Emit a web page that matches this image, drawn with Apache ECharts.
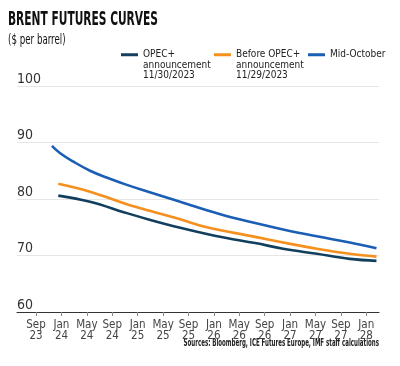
<!DOCTYPE html>
<html><head><meta charset="utf-8">
<script src="https://cdn.jsdelivr.net/npm/echarts@6/dist/echarts.min.js"></script>
<style>html,body{margin:0;padding:0;background:#fff}#c{width:400px;height:366px}</style>
</head><body><div id="c"></div>
<script>
// x = months since Sep 2023
const tickMonths = [0,4,8,12,16,20,24,28,32,36,40,44,48,52];
const tickLabels = ['Sep\n23','Jan\n24','May\n24','Sep\n24','Jan\n25','May\n25','Sep\n25','Jan\n26','May\n26','Sep\n26','Jan\n27','May\n27','Sep\n27','Jan\n28'];
const yTicks = [60,70,80,90,100];

const opecMonths  = [3.5, 8.5, 14.3, 18.0, 22.7, 26.9, 30.0, 34.5, 38.9, 44.2, 49.4, 53.6];
const opecValues  = [80.6, 79.5, 77.5, 76.3, 74.9, 73.8, 73.1, 72.2, 71.2, 70.3, 69.4, 69.05];
const beforeMonths = [3.5, 8.5, 13.7, 17.9, 22.7, 26.9, 34.5, 38.9, 44.2, 49.4, 53.6];
const beforeValues = [82.7, 81.3, 79.3, 77.9, 76.4, 75.0, 73.3, 72.3, 71.2, 70.3, 69.8];
const midOctMonths = [2.5, 3.8, 5.9, 8.5, 11.1, 14.3, 17.9, 22.7, 29.0, 35.0, 38.9, 44.2, 49.4, 53.6];
const midOctValues = [89.4, 88.1, 86.6, 85.0, 83.8, 82.5, 81.2, 79.5, 77.3, 75.6, 74.6, 73.4, 72.3, 71.3];

const seriesNames = ['OPEC+\nannouncement\n11/30/2023', 'Before OPEC+\nannouncement\n11/29/2023', 'Mid-October'];
const colors = ['#123f5e', '#f5901e', '#1b5eb5'];

const F = "'DejaVu Sans Condensed','DejaVu Sans',sans-serif";
const zip = (a,b)=>a.map((m,i)=>[m,b[i]]);

function legendFor(i, left, top, multi){
  return {
    left:left, top:top, padding:0, itemWidth:17, itemHeight:3, icon:'rect', selectedMode:false,
    textStyle:{fontFamily:F, fontSize:10, color:'#222', lineHeight:10.5},
    formatter: multi ? (n => '\n\n' + n) : (n => n),
    data:[seriesNames[i]]
  };
}

const chart = echarts.init(document.getElementById('c'), null, {renderer:'canvas'});
chart.setOption({
  animation:false,
  color: colors,
  graphic:[
    {type:'text', x:8, y:20, scaleX:0.607, style:{text:'BRENT FUTURES CURVES', fontFamily:F, fontWeight:'bold', fontSize:19.5, fill:'#111', align:'left', verticalAlign:'middle'}},
    {type:'text', x:8, y:40.5, scaleX:0.69, style:{text:'($ per barrel)', fontFamily:F, fontSize:14, fill:'#111', align:'left', verticalAlign:'middle'}},
    {type:'text', x:379, y:343, scaleX:0.61, style:{text:'Sources: Bloomberg, ICE Futures Europe, IMF staff calculations', fontFamily:F, fontWeight:'bold', fontSize:10, fill:'#222', align:'right', verticalAlign:'middle'}}
  ],
  legend:[
    legendFor(0, 121, 28.5, true),
    legendFor(1, 214, 28.5, true),
    legendFor(2, 308, 49.5, false)
  ],
  grid:{left:17, right:21, top:86, bottom:54},
  xAxis:{
    type:'value', min:-3, max:54,
    splitLine:{show:false},
    axisLine:{show:true, lineStyle:{color:'#333', width:1}},
    axisTick:{show:true, length:4, lineStyle:{color:'#888'}, customValues: tickMonths},
    axisLabel:{customValues: tickMonths, fontFamily:F, fontSize:11.5, color:'#444', lineHeight:11, margin:8,
      formatter:(v)=>tickLabels[tickMonths.indexOf(v)]}
  },
  yAxis:{
    type:'value', min:yTicks[0], max:yTicks[yTicks.length-1], interval:10,
    axisLine:{show:false}, axisTick:{show:false},
    splitLine:{lineStyle:{color:'#e6e6e6', width:1}},
    axisLabel:{inside:true, fontFamily:F, fontSize:14, color:'#333', verticalAlign:'bottom', align:'left', margin:0, padding:0}
  },
  series:[
    {name:seriesNames[0], type:'line', data:zip(opecMonths, opecValues), smooth:0.4, showSymbol:false, lineStyle:{width:2.6, color:colors[0]}},
    {name:seriesNames[1], type:'line', data:zip(beforeMonths, beforeValues), smooth:0.4, showSymbol:false, lineStyle:{width:2.6, color:colors[1]}},
    {name:seriesNames[2], type:'line', data:zip(midOctMonths, midOctValues), smooth:0.4, showSymbol:false, lineStyle:{width:2.6, color:colors[2]}}
  ]
});
</script></body></html>
